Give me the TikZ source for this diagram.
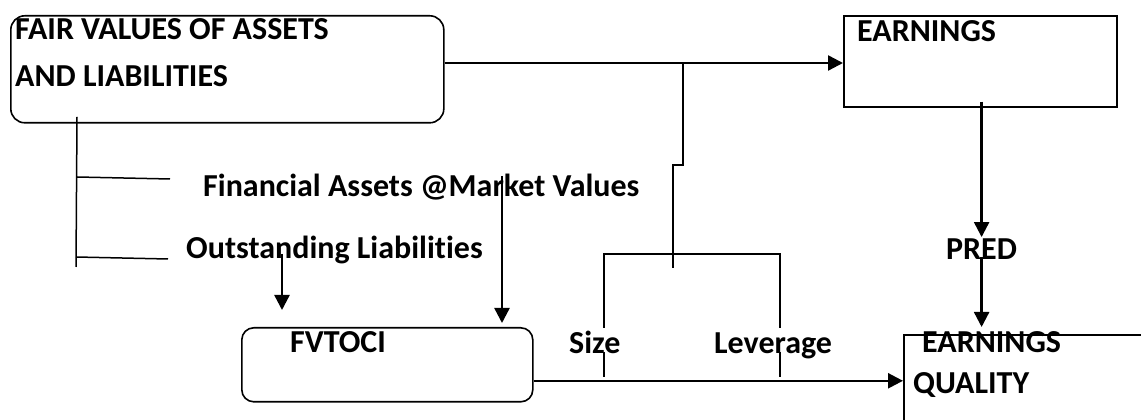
\documentclass[tikz,border=0pt]{standalone}
\usepackage{fontspec}
\setmainfont{Carlito}[Ligatures=NoCommon]
\usetikzlibrary{arrows.meta}
\tikzset{
  box/.style={draw, line width=1.6pt, inner sep=0pt, anchor=north west},
  rbox/.style={box, rounded corners=14pt},
  lbl/.style={inner sep=0pt, anchor=base west, font=\fontsize{32}{38}\selectfont\bfseries},
  arr/.style={line width=2.4pt, -{Triangle[length=15pt,width=15pt]}},
  thin line/.style={line width=1.5pt}
}
\begin{document}
\begin{tikzpicture}[x=1pt,y=1pt]
	\useasboundingbox (0,0) rectangle (1141,420);
	\clip (0,0) rectangle (1141,420);
	% boxes
	\node[rbox, minimum width=433pt, minimum height=107pt] (fv) at (10,405) {};
	\node[box, minimum width=273pt, minimum height=91pt] (earn) at (843,405) {};
	\node[rbox, rounded corners=12pt, minimum width=291pt, minimum height=74pt] (fvtoci) at (241,93) {};
	\node[box, minimum width=300pt, minimum height=92pt] (eq) at (903,86) {};
	% labels
	\node[lbl] (fvtop) at (15,380) {FAIR VALUES OF ASSETS};
	\node[lbl] (fvbot) at (15,333) {AND LIABILITIES};
	\node[lbl] (earnlbl) at (857,378) {EARNINGS};
	\node[lbl] (fin) at (203,223) {Financial Assets @Market Values};
	\node[lbl] (out) at (186,161) {Outstanding Liabilities};
	\node[lbl] (fvtocilbl) at (290,67) {FVTOCI};
	\node[lbl] (size) at (569,66) {Size};
	\node[lbl] (lev) at (714,66) {Leverage};
	\node[lbl] (pred) at (946,160) {PRED};
	\node[lbl] (eqtop) at (922,67) {EARNINGS};
	\node[lbl] (eqbot) at (913,26) {QUALITY};
	% fair value branches
	\draw[thin line] (77,303) -- (76,153);
	\draw[thin line] (77,243) -- (170,241);
	\draw[thin line] (76,163) -- (168,161);
	% into earnings
	\coordinate (j) at (683,357);
	\draw[arr] (fv.east |- j) -- (earn.west |- j);
	\draw[thin line] (j) -- ++(0,-102) -- ++(-10,0) -- ++(0,-103);
	% size and leverage
	\draw[thin line] (604,92) -- (604,166) -- (780,166) -- (780,92);
	\draw[thin line] (604,68) -- (604,43);
	\draw[thin line] (780,68) -- (780,43);
	% into fvtoci
	\coordinate (o1) at (282,166);
	\coordinate (f1) at (502,244);
	\draw[arr, shorten >=17pt] (o1) -- (o1 |- fvtoci.north);
	\draw[arr, shorten >=4pt] (f1) -- (f1 |- fvtoci.north);
	\draw[arr] (fvtoci.east |- eq.west) -- (eq.west);
	% pred
	\draw[arr, shorten <=-6pt, shorten >=2pt] (earn.south -| pred.north) -- (pred.north);
	\draw[arr, shorten <=-3pt, shorten >=7pt] (pred.south) -- (pred.south |- eq.north);
\end{tikzpicture}
\end{document}
